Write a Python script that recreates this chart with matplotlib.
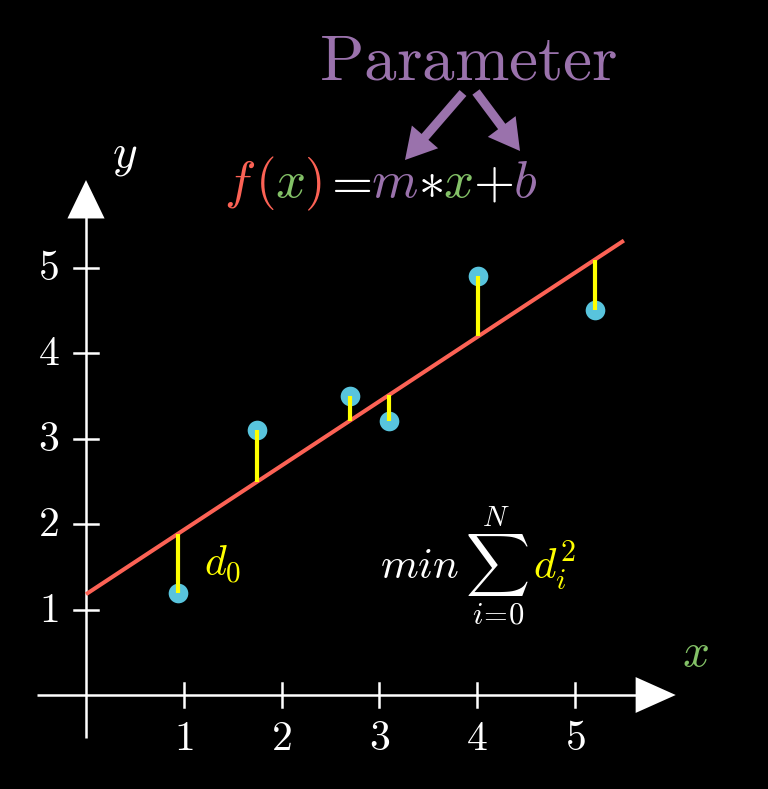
import matplotlib
matplotlib.use("Agg")
import matplotlib.pyplot as plt
from matplotlib.patches import FancyArrowPatch, Polygon
import numpy as np

plt.rcParams['mathtext.fontset'] = 'cm'
plt.rcParams['font.family'] = ['DejaVu Serif']

# data
pts_x = [0.94, 1.75, 2.70, 3.10, 4.01, 5.20]
pts_y = [1.19, 3.10, 3.50, 3.21, 4.91, 4.51]
slope_m = 0.753
intercept_b = 1.18
line_x_range = [0.0, 5.5]
xticks = [1, 2, 3, 4, 5]
yticks = [1, 2, 3, 4, 5]

RED = '#FC6255'
BLUE = '#58C4DD'
YELLOW = '#FFFF00'
GREEN = '#83C167'
PURPLE = '#9A72AC'
WHITE = '#FFFFFF'

W, H = 768, 789
fig = plt.figure(figsize=(W / 100, H / 100), dpi=100, facecolor='black')
ax = fig.add_axes([0, 0, 1, 1])
ax.set_facecolor('black')
ax.axis('off')
# pixel mapping: px = 86 + 97.8*x ; py(top) = 695 - 85.4*y
sx, ox = 97.8, 86
sy, oy = 85.4, 695
ax.set_xlim(-ox / sx, (W - ox) / sx)
ax.set_ylim((oy - H) / sy, oy / sy)


def px2x(p):
    return (p - ox) / sx


def py2y(p):
    return (oy - p) / sy


# axes lines
ax.plot([-0.5, 5.7], [0, 0], color=WHITE, lw=1.8, solid_capstyle='butt')
ax.plot([0, 0], [-0.5, 5.7], color=WHITE, lw=1.8, solid_capstyle='butt')
# arrow heads
ax.add_patch(Polygon([[5.62, 0.21], [5.62, -0.21], [6.03, 0]], closed=True, color=WHITE, lw=0))
ax.add_patch(Polygon([[-0.19, 5.58], [0.19, 5.58], [0, 6.03]], closed=True, color=WHITE, lw=0))

# ticks
for t in xticks:
    ax.plot([t, t], [-0.14, 0.14], color=WHITE, lw=1.8)
    ax.text(t, -0.50, f'${t}$', color=WHITE, fontsize=30, ha='center', va='center')
for t in yticks:
    ax.plot([-0.12, 0.12], [t, t], color=WHITE, lw=1.8)
    ax.text(-0.38, t, f'${t}$', color=WHITE, fontsize=30, ha='center', va='center')

# axis labels
ax.text(px2x(695), py2y(653), '$x$', color=GREEN, fontsize=34, ha='center', va='center')
ax.text(px2x(125), py2y(155), '$y$', color=WHITE, fontsize=34, ha='center', va='center')

# regression line
lx = np.array(line_x_range)
ax.plot(lx, slope_m * lx + intercept_b, color=RED, lw=2.9, solid_capstyle='butt', zorder=3)

# residuals
for x, y in zip(pts_x, pts_y):
    ax.plot([x, x], [y, slope_m * x + intercept_b], color=YELLOW, lw=3, zorder=5, solid_capstyle='butt')
ax.scatter(pts_x, pts_y, s=200, color=BLUE, zorder=4, lw=0)

# d_0 label
ax.text(px2x(204), py2y(565), '$d_0$', color=YELLOW, fontsize=30, ha='left', va='center')

# sum expression
ax.text(px2x(459), py2y(566), r'$min$', color=WHITE, fontsize=31, ha='right', va='center')
ax.text(px2x(497), py2y(565), r'$\sum$', color=WHITE, fontsize=32, ha='center', va='center')
ax.text(px2x(496), py2y(518), r'$N$', color=WHITE, fontsize=21, ha='center', va='center')
ax.text(px2x(498), py2y(615), r'$i\!=\!0$', color=WHITE, fontsize=22, ha='center', va='center')
ax.text(px2x(533), py2y(566), r'$d_i^2$', color=YELLOW, fontsize=31, ha='left', va='center')

# Parameter
fig.text(468 / W, 1 - 62 / H, r'$\mathrm{Parameter}$', color=PURPLE, fontsize=47, ha='center', va='center')

# formula pieces
pieces = [('$f$', RED), ('$($', RED), ('$x$', GREEN), ('$)$', RED), ('$=$', WHITE),
          ('$m$', PURPLE), (r'$\ast$', WHITE), ('$x$', GREEN), ('$+$', WHITE), ('$b$', PURPLE)]
fig.canvas.draw()
renderer = fig.canvas.get_renderer()
cur_x = 224
base_y = H - 197
for s, c in pieces:
    t = fig.text(cur_x / W, base_y / H, s, color=c, fontsize=38, ha='left', va='baseline')
    bb = t.get_window_extent(renderer)
    cur_x += bb.width

# purple arrows
for (tx, ty), (hx, hy) in [((463, 93), (405, 160)), ((476, 92), (520, 151))]:
    a = FancyArrowPatch((tx, H - ty), (hx, H - hy), transform=None,
                        arrowstyle='simple,head_length=22,head_width=25,tail_width=6.5',
                        mutation_scale=1, color=PURPLE, lw=0, shrinkA=0, shrinkB=0)
    fig.add_artist(a)

fig.savefig('out.png', dpi=100, facecolor='black')
